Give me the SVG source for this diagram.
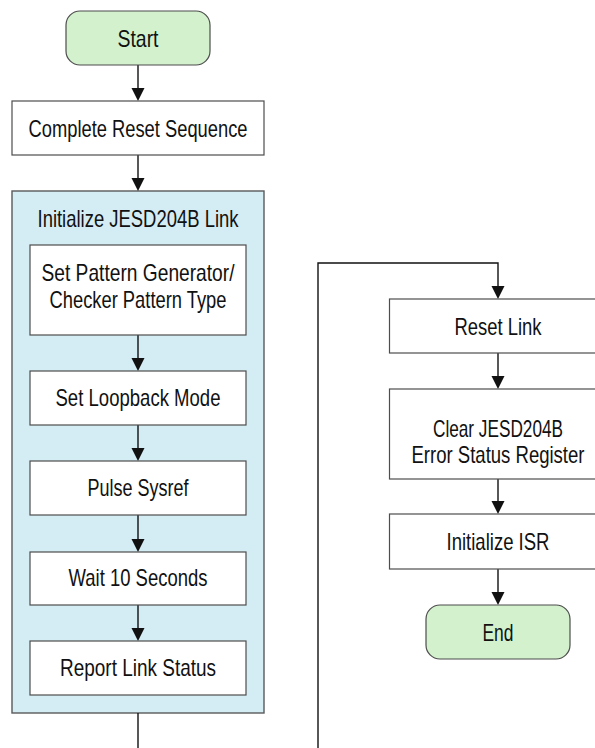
<svg xmlns="http://www.w3.org/2000/svg" width="595" height="748" viewBox="0 0 595 748">
<style>
.box{fill:#ffffff;stroke:#4d4d4d;stroke-width:1.2}
.term{fill:#d3f1cd;stroke:#4d4d4d;stroke-width:1.2}
.cont{fill:#d4ecf3;stroke:#5a5a5a;stroke-width:1.4}
.lbl{font-family:"Liberation Sans Narrow","Liberation Sans",Arial,sans-serif;font-size:24px;fill:#111111}
.conn{fill:none;stroke:#111111;stroke-width:1.4}
.ah{fill:#111111}
</style>
<rect width="595" height="748" fill="#ffffff"/>
<g id="container">
<rect class="cont" x="12" y="191" width="252" height="522"/>
<text class="lbl" x="138" y="227" text-anchor="middle" textLength="201" lengthAdjust="spacingAndGlyphs">Initialize JESD204B Link</text>
</g>
<g id="connectors">
<path class="conn" d="M138,65 V89"/>
<path class="conn" d="M138,155 V179"/>
<path class="conn" d="M138,335 V359"/>
<path class="conn" d="M138,425 V449"/>
<path class="conn" d="M138,515 V540"/>
<path class="conn" d="M138,605 V629"/>
<path class="conn" d="M138,713 V748"/>
<path class="conn" d="M318,748 V263 H498 V287"/>
<path class="conn" d="M498,353 V377"/>
<path class="conn" d="M498,479 V502"/>
<path class="conn" d="M498,569 V593"/>
<path class="ah" d="M131.5,88 L144.5,88 L138,101 Z"/>
<path class="ah" d="M131.5,178 L144.5,178 L138,191 Z"/>
<path class="ah" d="M131.5,358 L144.5,358 L138,371 Z"/>
<path class="ah" d="M131.5,448 L144.5,448 L138,461 Z"/>
<path class="ah" d="M131.5,539 L144.5,539 L138,552 Z"/>
<path class="ah" d="M131.5,628 L144.5,628 L138,641 Z"/>
<path class="ah" d="M491.5,286 L504.5,286 L498,299 Z"/>
<path class="ah" d="M491.5,376 L504.5,376 L498,389 Z"/>
<path class="ah" d="M491.5,501 L504.5,501 L498,514 Z"/>
<path class="ah" d="M491.5,592 L504.5,592 L498,605 Z"/>
</g>
<g id="start">
<rect class="term" x="66" y="11" width="144" height="54" rx="14"/>
<text class="lbl" x="138" y="47" text-anchor="middle" textLength="41" lengthAdjust="spacingAndGlyphs">Start</text>
</g>
<g id="reset-seq">
<rect class="box" x="12" y="101" width="252" height="54"/>
<text class="lbl" x="138" y="137" text-anchor="middle" textLength="219" lengthAdjust="spacingAndGlyphs">Complete Reset Sequence</text>
</g>
<g id="pattern">
<rect class="box" x="30" y="245" width="216" height="90"/>
<text class="lbl" x="138" y="281" text-anchor="middle" textLength="193" lengthAdjust="spacingAndGlyphs">Set Pattern Generator/</text>
<text class="lbl" x="138" y="308" text-anchor="middle" textLength="177" lengthAdjust="spacingAndGlyphs">Checker Pattern Type</text>
</g>
<g id="loopback">
<rect class="box" x="30" y="371" width="216" height="54"/>
<text class="lbl" x="138" y="406" text-anchor="middle" textLength="165" lengthAdjust="spacingAndGlyphs">Set Loopback Mode</text>
</g>
<g id="sysref">
<rect class="box" x="30" y="461" width="216" height="54"/>
<text class="lbl" x="138" y="496" text-anchor="middle" textLength="101" lengthAdjust="spacingAndGlyphs">Pulse Sysref</text>
</g>
<g id="wait">
<rect class="box" x="30" y="552" width="216" height="53"/>
<text class="lbl" x="138" y="586" text-anchor="middle" textLength="139" lengthAdjust="spacingAndGlyphs">Wait 10 Seconds</text>
</g>
<g id="report">
<rect class="box" x="30" y="641" width="216" height="54"/>
<text class="lbl" x="138" y="676" text-anchor="middle" textLength="156" lengthAdjust="spacingAndGlyphs">Report Link Status</text>
</g>
<g id="reset-link">
<rect class="box" x="389.5" y="299" width="217" height="54"/>
<text class="lbl" x="498" y="335" text-anchor="middle" textLength="87" lengthAdjust="spacingAndGlyphs">Reset Link</text>
</g>
<g id="clear">
<rect class="box" x="389.5" y="389" width="217" height="90"/>
<text class="lbl" x="498" y="437" text-anchor="middle" textLength="130" lengthAdjust="spacingAndGlyphs">Clear JESD204B</text>
<text class="lbl" x="498" y="463" text-anchor="middle" textLength="173" lengthAdjust="spacingAndGlyphs">Error Status Register</text>
</g>
<g id="isr">
<rect class="box" x="389.5" y="514" width="217" height="55"/>
<text class="lbl" x="498" y="550" text-anchor="middle" textLength="103" lengthAdjust="spacingAndGlyphs">Initialize ISR</text>
</g>
<g id="end">
<rect class="term" x="426" y="605" width="144" height="54" rx="14"/>
<text class="lbl" x="498" y="641" text-anchor="middle" textLength="31" lengthAdjust="spacingAndGlyphs">End</text>
</g>
</svg>
